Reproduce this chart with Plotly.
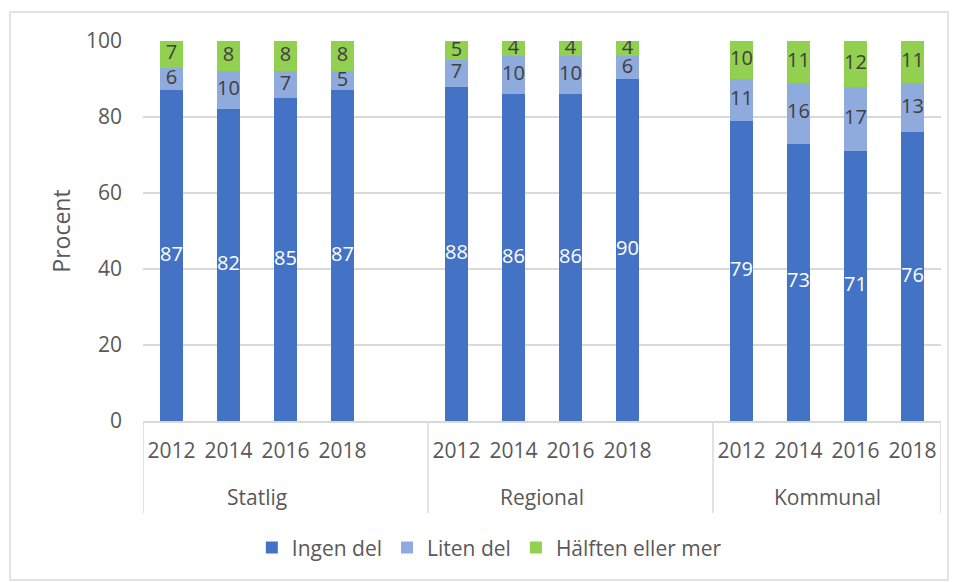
import plotly.graph_objects as go

groups = ["Statlig", "Regional", "Kommunal"]
years = ["2012", "2014", "2016", "2018"]
series = ["Ingen del", "Liten del", "Hälften eller mer"]

ingen_del = [87, 82, 85, 87, 88, 86, 86, 90, 79, 73, 71, 76]
liten_del = [6, 10, 7, 5, 7, 10, 10, 6, 11, 16, 17, 13]
halften = [7, 8, 8, 8, 5, 4, 4, 4, 10, 11, 12, 11]

COLORS = ["#4472C4", "#8FAADC", "#92D050"]
LABEL_COLORS = ["#FFFFFF", "#404040", "#404040"]
FONT = "Open Sans"
GREY = "#595959"
LINE = "#D9D9D9"

# one empty slot between groups, as in the Excel original
slot = len(years) + 1
xpos = [gi * slot + yi for gi in range(len(groups)) for yi in range(len(years))]
ticktext = [y for _ in groups for y in years]
n_slots = slot * (len(groups) - 1) + len(years)

fig = go.Figure()
base = [0] * len(xpos)
for name, vals, color, tcolor in zip(series, [ingen_del, liten_del, halften], COLORS, LABEL_COLORS):
    fig.add_trace(go.Bar(
        x=xpos, y=vals, name=name, marker=dict(color=color, line=dict(width=0)),
        width=0.4, hoverinfo="skip",
    ))
    mids = [b + v / 2 for b, v in zip(base, vals)]
    fig.add_trace(go.Scatter(
        x=xpos, y=mids, mode="text", text=[str(v) for v in vals],
        textfont=dict(family=FONT, size=20, color=tcolor),
        showlegend=False, hoverinfo="skip",
    ))
    base = [b + v for b, v in zip(base, vals)]

# group separators under the axis
bounds = [gi * slot - 0.5 for gi in range(len(groups))] + [n_slots - 0.5]
for b in bounds:
    fig.add_shape(type="line", xref="x", yref="paper", x0=b, x1=b, y0=0, y1=-0.242,
                  line=dict(color=LINE, width=1.5))
for gi, g in enumerate(groups):
    fig.add_annotation(x=gi * slot + (len(years) - 1) / 2, xref="x", y=-0.2, yref="paper",
                       text=g, showarrow=False, yanchor="middle",
                       font=dict(family=FONT, size=21, color=GREY))

# chart area border
fig.add_shape(type="rect", xref="paper", yref="paper",
              x0=(10 - 143) / 798, x1=(948 - 143) / 798, y0=(421 - 580) / 380, y1=(421 - 12) / 380,
              line=dict(color=LINE, width=1.5), layer="below")

# page body has an 8px margin, so the figure is drawn 8px smaller
fig.update_layout(
    width=951, height=574,
    margin=dict(l=135, r=18, t=33, b=161),
    paper_bgcolor="white", plot_bgcolor="white",
    barmode="stack", bargap=0,
    font=dict(family=FONT, size=21, color=GREY),
    showlegend=True,
    legend=dict(orientation="h", x=0.434, xanchor="center", y=-0.334, yanchor="middle",
                font=dict(family=FONT, size=21, color=GREY), traceorder="normal",
                itemwidth=30),
    xaxis=dict(range=[-0.5, n_slots - 0.5], tickvals=xpos, ticktext=ticktext,
               showgrid=False, zeroline=False, showline=True, linecolor=LINE, linewidth=1.5,
               ticks="", ticklabelstandoff=10, fixedrange=True),
    yaxis=dict(range=[0, 100], tickvals=[0, 20, 40, 60, 80, 100], showgrid=True,
               gridcolor=LINE, gridwidth=1.5, zeroline=False, showline=False, ticks="",
               ticklabelstandoff=20,
               title=dict(text="Procent", standoff=8, font=dict(family=FONT, size=23, color=GREY))),
)

fig.write_html("out.html")
